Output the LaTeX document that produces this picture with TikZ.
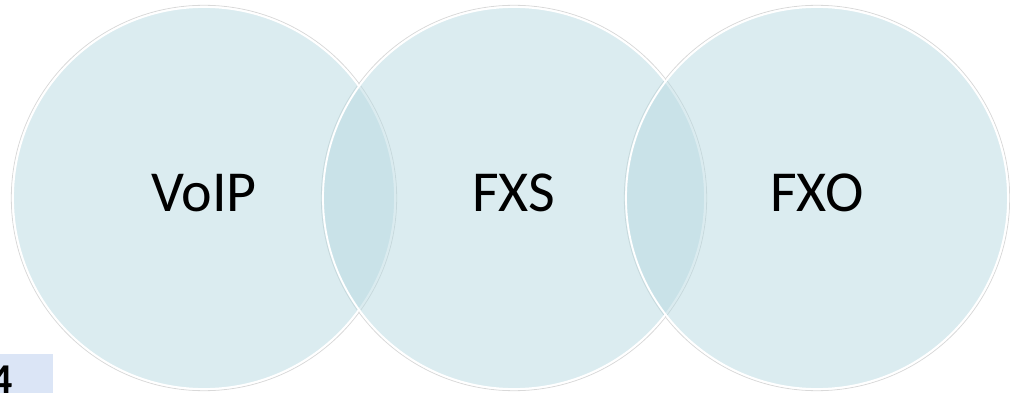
\documentclass[tikz,border=0pt]{standalone}
\usepackage{fontspec}
\setmainfont{Carlito}
\usetikzlibrary{positioning}

\definecolor{vennfill}{RGB}{183,217,225}
\definecolor{numbox}{RGB}{219,229,246}

\begin{document}
\begin{tikzpicture}[x=1pt, y=-1pt,
        venn/.style={circle, minimum size=382pt, inner sep=0pt, fill=vennfill,
                fill opacity=0.5, draw=white, line width=1.8pt},
        vennlabel/.style={font=\fontsize{58}{62}\selectfont, inner sep=0pt},
        numbox/.style={rectangle, fill=numbox, minimum width=80pt, minimum height=41pt,
                inner sep=0pt}]
        \useasboundingbox (0, 0) rectangle (1010, 393);
        \clip (0, 0) rectangle (1010, 393);

        % faint shadow under the rims
        \foreach \x in {204, 514, 817}
                \draw[black!15, line width=0.8pt] (\x, 198) circle [radius=192.7pt];

        % the three overlapping circles and their labels
        \foreach \name/\x/\txt in {voip/204/VoIP, fxs/514/FXS, fxo/817/FXO} {
                \node[venn] (\name) at (\x, 198) {};
                \node[vennlabel] (\name-text) at ([yshift=5pt]\name.center) {\txt};
        }

        % page number, cut at the corner
        \node[numbox, anchor=south east] (slide) at (53, 395) {};
        \node[font=\bfseries\fontsize{44}{48}\selectfont, inner sep=0pt, anchor=base east]
                (slidenum) at (13, 394) {4};
\end{tikzpicture}
\end{document}
